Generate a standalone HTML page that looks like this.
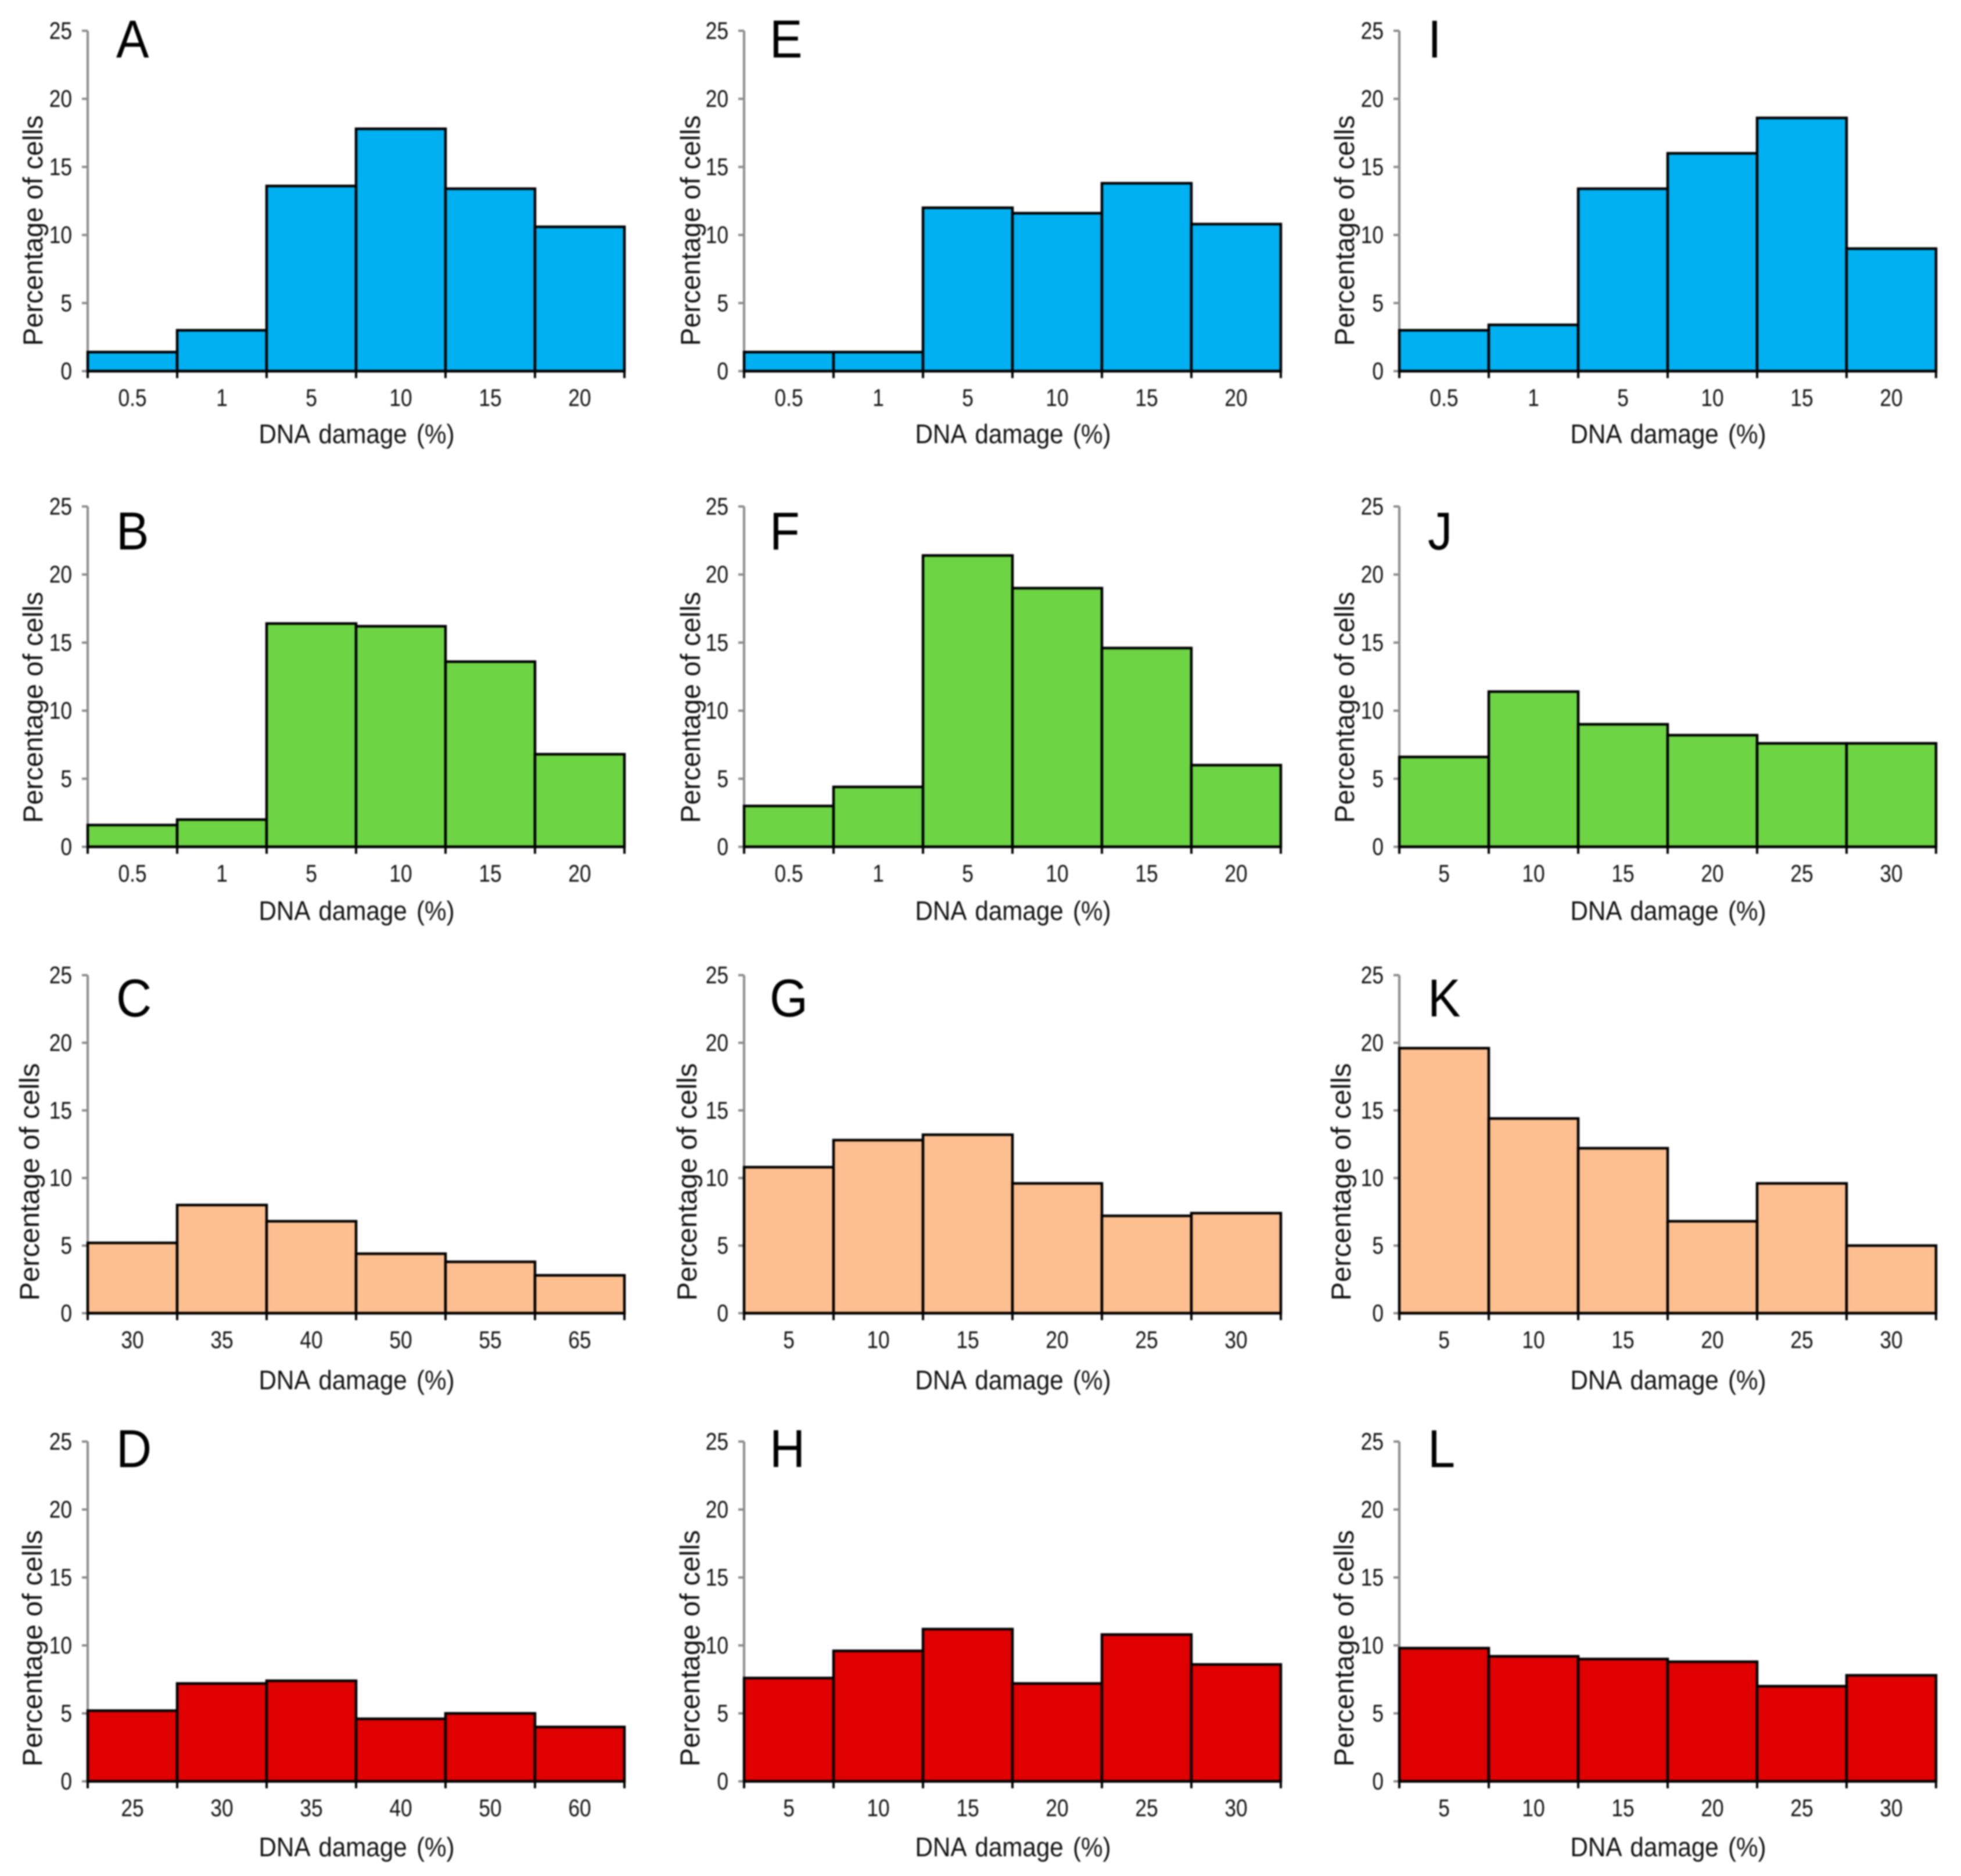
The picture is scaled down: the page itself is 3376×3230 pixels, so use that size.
<!DOCTYPE html>
<html lang="en">
<head>
<meta charset="utf-8">
<title>DNA damage histograms</title>
<style>
html,body{margin:0;padding:0;background:#fff;width:3376px;height:3230px;overflow:hidden}
svg{display:block;filter:blur(1.4px)}
text{font-family:"Liberation Sans",sans-serif;fill:#111}
</style>
</head>
<body>
<svg id="chart" xmlns="http://www.w3.org/2000/svg" width="3376" height="3230" viewBox="0 0 3376 3230"></svg>
<script>
// ---- data ----
const panelLetters = ["A","B","C","D","E","F","G","H","I","J","K","L"];
const catsA = ["0.5","1","5","10","15","20"];
const catsB = ["0.5","1","5","10","15","20"];
const catsC = ["30","35","40","50","55","65"];
const catsD = ["25","30","35","40","50","60"];
const catsE = ["0.5","1","5","10","15","20"];
const catsF = ["0.5","1","5","10","15","20"];
const catsG = ["5","10","15","20","25","30"];
const catsH = ["5","10","15","20","25","30"];
const catsI = ["0.5","1","5","10","15","20"];
const catsJ = ["5","10","15","20","25","30"];
const catsK = ["5","10","15","20","25","30"];
const catsL = ["5","10","15","20","25","30"];
const valuesA = [1.4,3,13.6,17.8,13.4,10.6];
const valuesB = [1.6,2,16.4,16.2,13.6,6.8];
const valuesC = [5.2,8,6.8,4.4,3.8,2.8];
const valuesD = [5.2,7.2,7.4,4.6,5,4];
const valuesE = [1.4,1.4,12,11.6,13.8,10.8];
const valuesF = [3,4.4,21.4,19,14.6,6];
const valuesG = [10.8,12.8,13.2,9.6,7.2,7.4];
const valuesH = [7.6,9.6,11.2,7.2,10.8,8.6];
const valuesI = [3,3.4,13.4,16,18.6,9];
const valuesJ = [6.6,11.4,9,8.2,7.6,7.6];
const valuesK = [19.6,14.4,12.2,6.8,9.6,5];
const valuesL = [9.8,9.2,9,8.8,7,7.8];
const yTicks = [0,5,10,15,20,25];
const yMax = 25;
const xTitle = "DNA damage (%)";
const yTitle = "Percentage of cells";
const rowColors = ["#00b0f0","#6dd544","#fdbf8f","#e00000"];
const allCats = [catsA,catsB,catsC,catsD,catsE,catsF,catsG,catsH,catsI,catsJ,catsK,catsL];
const allValues = [valuesA,valuesB,valuesC,valuesD,valuesE,valuesF,valuesG,valuesH,valuesI,valuesJ,valuesK,valuesL];

// ---- layout ----
const colLeft = [151,1281,2409];
const colWidth = 924;
const colLetterOffset = [49,44,49];
const colYTitleOffset = [0,2,0];
const rowTop = [53,872,1679,2482];
const rowBottom = [639,1458,2261,3067];
const rowLetterBase = [99,946,1750,2526];
const rowYTitleShift = [-94,-94,-100,-95];
const rowYTitleCenter = [397,1218,2035,2838];
const rowYTitleLength = [397,398,409,407];
const rowXTitleBase = [763,1584,2392,3196];
const svg = document.getElementById("chart");
const NS = "http://www.w3.org/2000/svg";

function make(tag, attrs, parent) {
  const el = document.createElementNS(NS, tag);
  for (const k in attrs) el.setAttribute(k, attrs[k]);
  parent.appendChild(el);
  return el;
}

allValues.forEach(function (values, i) {
  const col = Math.floor(i / 4);
  const row = i % 4;
  const cats = allCats[i];
  const letter = panelLetters[i];
  const x0 = colLeft[col];
  const top = rowTop[row];
  const bottom = rowBottom[row];
  const yScale = function (v) { return bottom - (v / yMax) * (bottom - top); };
  const binW = colWidth / values.length;
  const xScale = function (k) { return x0 + k * binW; };

  const g = make("g", {}, svg);
  
  

  const yAxis = make("line", {x1:x0, y1:top, x2:x0, y2:bottom, stroke:"#8c8c8c", "stroke-width":4}, g);
  
  

  yTicks.forEach(function (t) {
    const ty = yScale(t);
    const tick = make("line", {x1:x0-10, y1:ty, x2:x0, y2:ty, stroke:"#8c8c8c", "stroke-width":4}, g);
    
    
    const label = make("text", {transform:"translate(" + (x0-27) + "," + (ty+14) + ") scale(0.84,1)", "font-size":42, "text-anchor":"end"}, g);
    
    
    label.textContent = String(t);
  });

  values.forEach(function (v, k) {
    const bar = make("rect", {x:xScale(k), y:yScale(v), width:binW, height:bottom-yScale(v), fill:rowColors[row], stroke:"#000", "stroke-width":4.5}, g);
    
    
  });

  const xAxis = make("line", {x1:x0, y1:bottom, x2:x0+colWidth, y2:bottom, stroke:"#000", "stroke-width":4.5}, g);
  
  

  for (let k = 0; k <= values.length; k++) {
    const xt = make("line", {x1:xScale(k), y1:bottom, x2:xScale(k), y2:bottom+12, stroke:"#000", "stroke-width":4}, g);
    
    
  }

  cats.forEach(function (c, k) {
    const label = make("text", {transform:"translate(" + (xScale(k)+binW/2) + "," + (bottom+60) + ") scale(0.84,1)", "font-size":42, "text-anchor":"middle"}, g);
    
    
    label.textContent = c;
  });

  const xt = make("text", {x:x0+colWidth/2+1, y:rowXTitleBase[row], "font-size":46, "text-anchor":"middle", textLength:337, lengthAdjust:"spacingAndGlyphs", style:"word-spacing:5px"}, g);
  
  
  xt.textContent = xTitle;

  const yt = make("text", {transform:"translate(" + (x0+rowYTitleShift[row]+16+colYTitleOffset[col]) + "," + rowYTitleCenter[row] + ") rotate(-90)", "font-size":47, "text-anchor":"middle", textLength:rowYTitleLength[row], lengthAdjust:"spacingAndGlyphs"}, g);
  
  
  yt.textContent = yTitle;

  const pl = make("text", {transform:"translate(" + (x0+colLetterOffset[col]) + "," + rowLetterBase[row] + ") scale(0.92,1)", "font-size":92, style:"fill:#000"}, g);
  
  
  pl.textContent = letter;
});
</script>
</body>
</html>
